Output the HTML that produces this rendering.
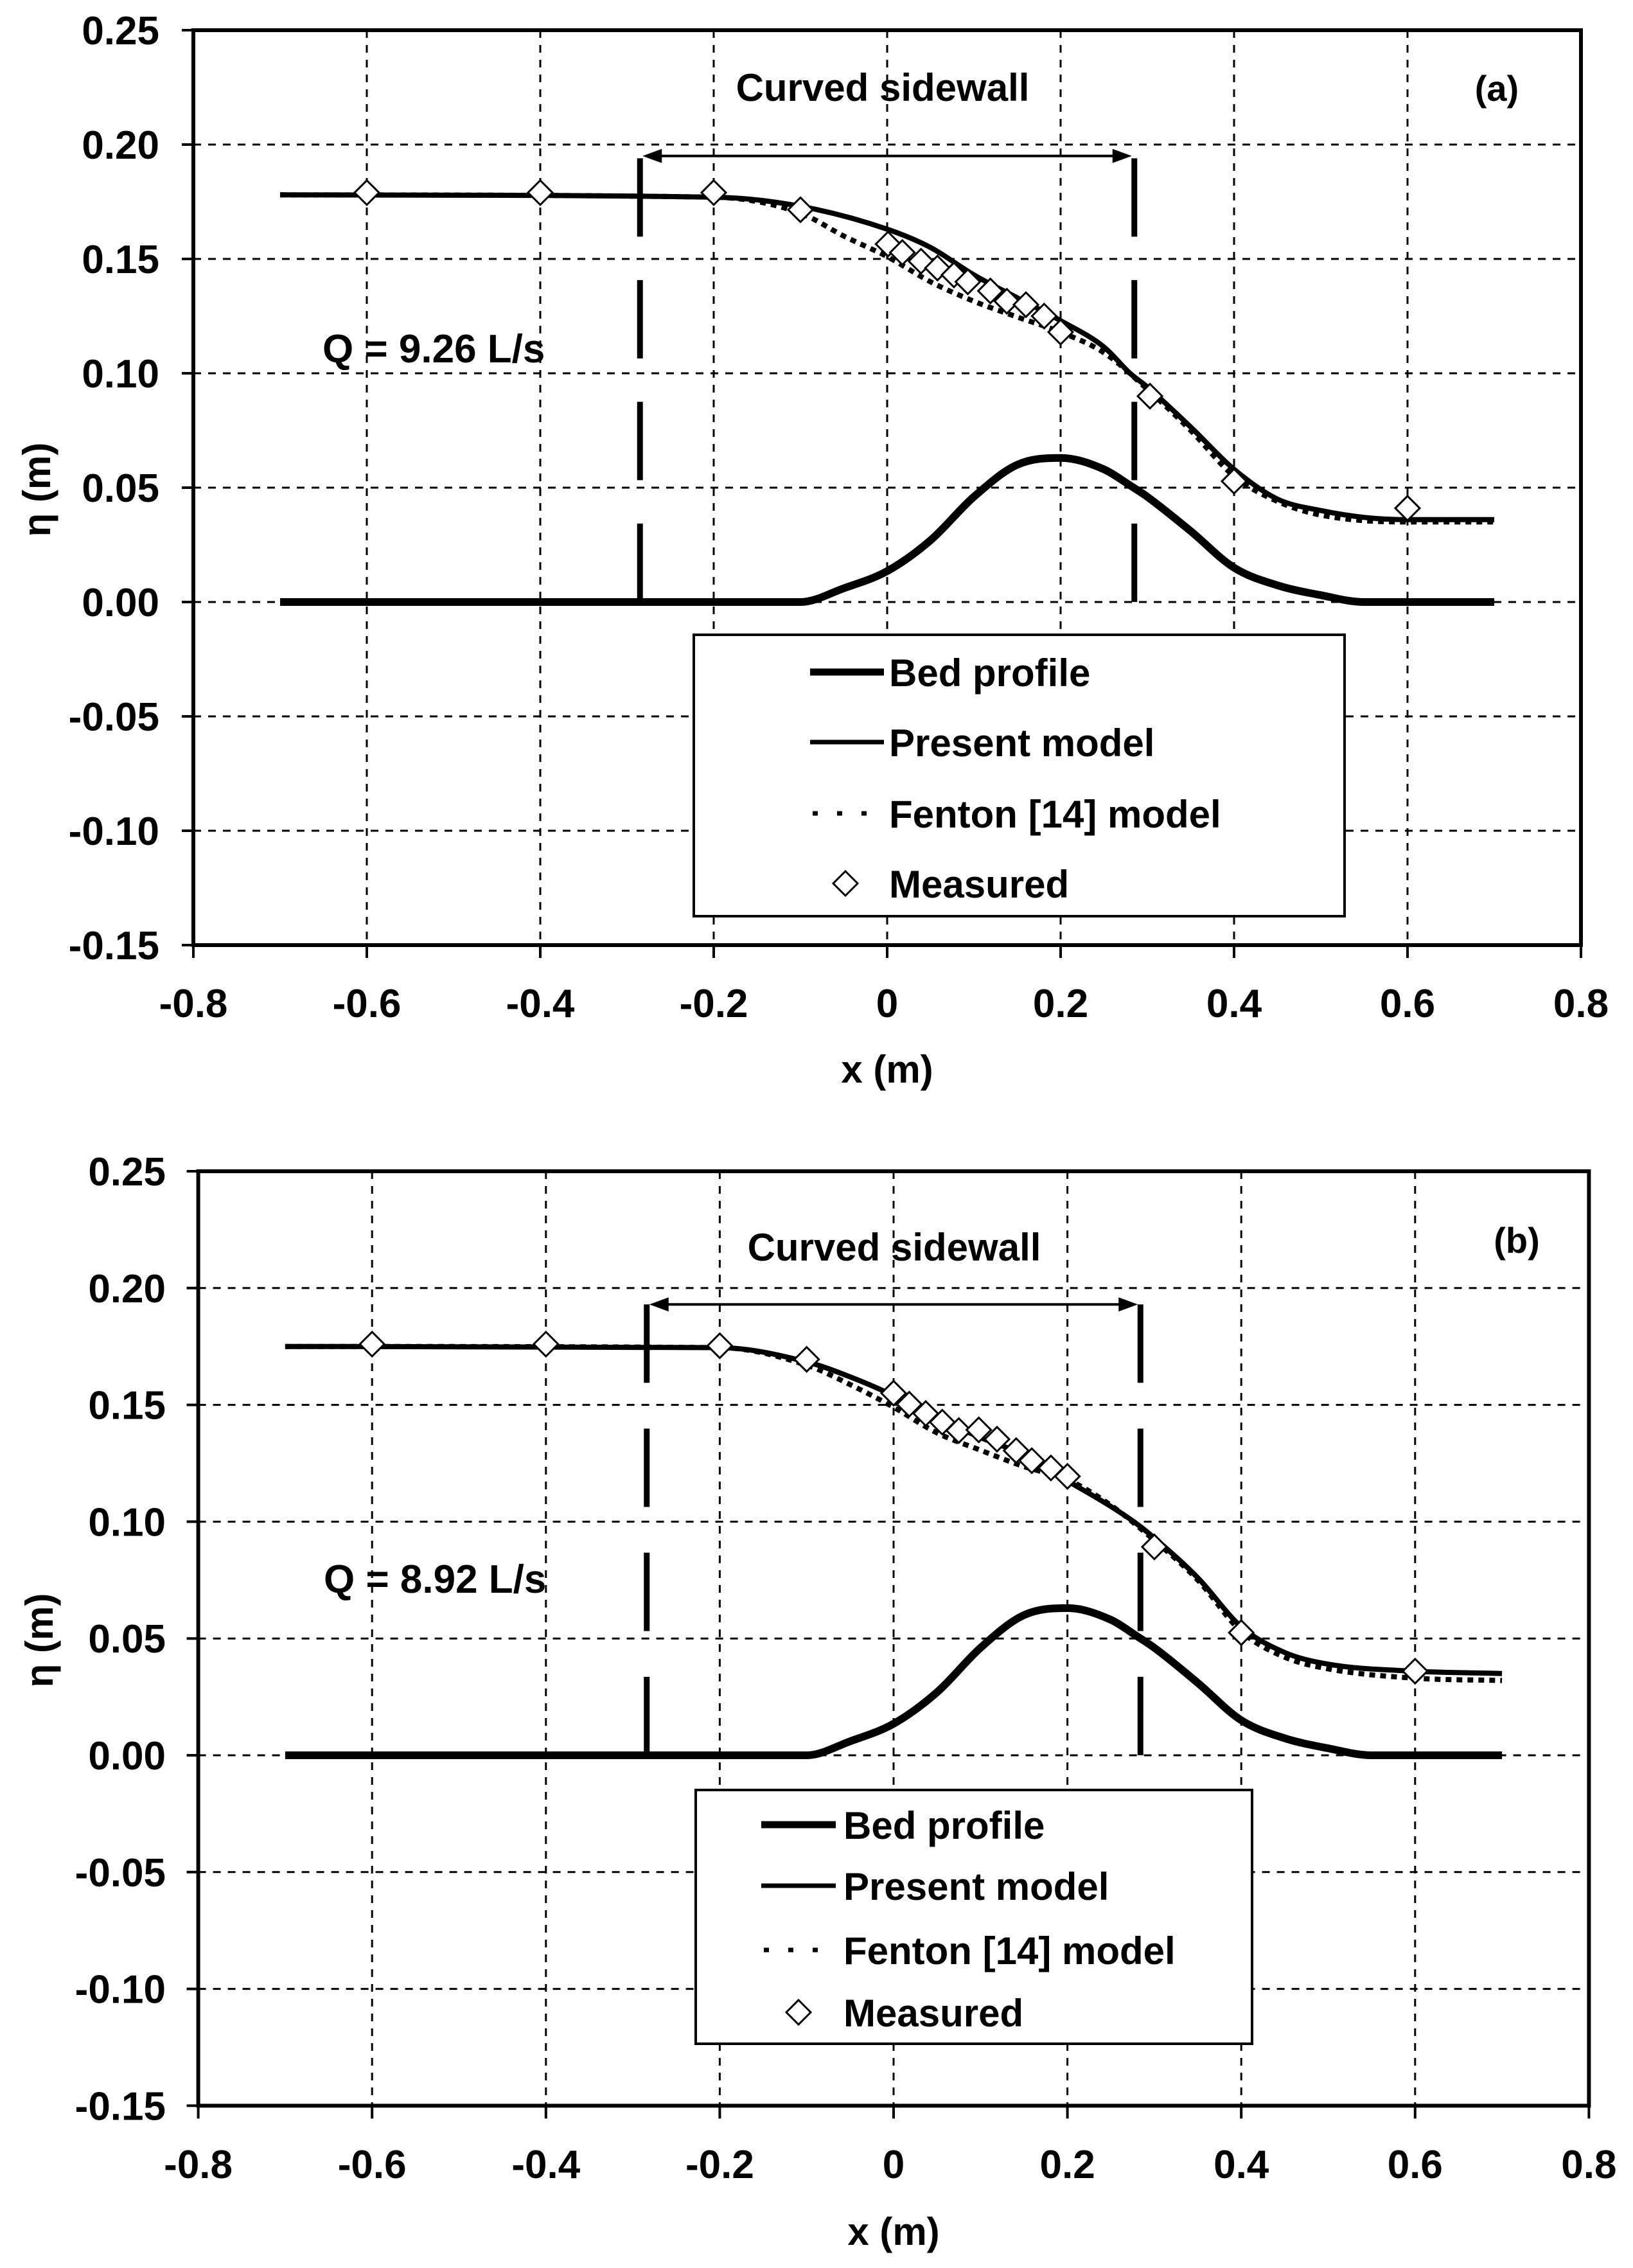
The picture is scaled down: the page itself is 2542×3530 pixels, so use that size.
<!DOCTYPE html>
<html><head><meta charset="utf-8">
<style>
html,body{margin:0;padding:0;background:#fff;}
svg{display:block;font-family:"Liberation Sans",Arial,sans-serif;font-weight:bold;}
</style></head>
<body>
<svg id="fig" width="2542" height="3530" viewBox="0 0 2542 3530" xmlns="http://www.w3.org/2000/svg"></svg>
<script>
// ---------- shared data ----------
const xTicks = [-0.8,-0.6,-0.4,-0.2,0,0.2,0.4,0.6,0.8];
const xTickLabels = ["-0.8","-0.6","-0.4","-0.2","0","0.2","0.4","0.6","0.8"];
const yTicks = [0.25,0.20,0.15,0.10,0.05,0.00,-0.05,-0.10,-0.15];
const yTickLabels = ["0.25","0.20","0.15","0.10","0.05","0.00","-0.05","-0.10","-0.15"];

// ---------- panel (a) data ----------
const bedX_a = [-0.7,-0.1,-0.05,0,0.05,0.1,0.15,0.2,0.25,0.28,0.3,0.35,0.4,0.45,0.5,0.55,0.7];
const bedY_a = [0,0,0.006,0.0135,0.027,0.046,0.060,0.063,0.058,0.051,0.046,0.031,0.015,0.0073,0.003,0,0];
const presX_a = [-0.7,-0.2,-0.1,0,0.05,0.1,0.15,0.2,0.25,0.28,0.3,0.35,0.4,0.45,0.5,0.55,0.6,0.7];
const presY_a = [0.178,0.177,0.173,0.163,0.155,0.143,0.133,0.123,0.1115,0.100,0.094,0.0765,0.058,0.045,0.040,0.037,0.036,0.036];
const fentX_a = [-0.7,-0.2,-0.1,-0.05,0,0.05,0.1,0.15,0.2,0.25,0.3,0.35,0.4,0.45,0.5,0.6,0.7];
const fentY_a = [0.178,0.177,0.170,0.160,0.151,0.140,0.1315,0.1246,0.118,0.109,0.093,0.075,0.055,0.044,0.038,0.035,0.035];
const measX_a = [-0.6,-0.4,-0.2,-0.1,0.001,0.0175,0.039,0.058,0.077,0.093,0.119,0.138,0.16,0.181,0.2,0.303,0.4,0.6];
const measY_a = [0.179,0.179,0.179,0.1715,0.1565,0.1528,0.149,0.146,0.143,0.140,0.136,0.1315,0.130,0.125,0.118,0.090,0.0528,0.041];

// ---------- panel (b) data ----------
const bedX_b = [-0.7,-0.1,-0.05,0,0.05,0.1,0.15,0.2,0.25,0.28,0.3,0.35,0.4,0.45,0.5,0.55,0.7];
const bedY_b = [0,0,0.006,0.0135,0.027,0.046,0.060,0.063,0.058,0.051,0.046,0.031,0.015,0.0073,0.003,0,0];
const presX_b = [-0.7,-0.2,-0.1,-0.05,0,0.05,0.1,0.15,0.2,0.25,0.28,0.3,0.35,0.4,0.45,0.5,0.6,0.7];
const presY_b = [0.175,0.1745,0.1684,0.162,0.154,0.1445,0.136,0.1286,0.1175,0.1065,0.099,0.093,0.076,0.055,0.044,0.039,0.036,0.035];
const fentX_b = [-0.7,-0.2,-0.1,-0.05,0,0.05,0.1,0.15,0.2,0.25,0.3,0.35,0.4,0.45,0.5,0.6,0.7];
const fentY_b = [0.175,0.1745,0.167,0.1587,0.149,0.138,0.1306,0.1236,0.118,0.107,0.092,0.075,0.053,0.042,0.037,0.033,0.032];
const measX_b = [-0.6,-0.4,-0.2,-0.1,0.0,0.018,0.037,0.056,0.075,0.098,0.119,0.141,0.159,0.181,0.2,0.3,0.4,0.6];
const measY_b = [0.176,0.176,0.1753,0.1695,0.155,0.1503,0.1463,0.1426,0.139,0.1393,0.1353,0.1304,0.1261,0.123,0.1194,0.0892,0.0525,0.036];

const NS = "http://www.w3.org/2000/svg";
const svg = document.getElementById('fig');
function mk(tag, attrs, parent){
  const e = document.createElementNS(NS, tag);
  for (const k in attrs) e.setAttribute(k, attrs[k]);
  (parent||svg).appendChild(e);
  return e;
}

// monotone cubic (Fritsch-Carlson) path in data space, mapped through axis functions
function monoPath(xs, ys, X, Y){
  const n = xs.length, d = [], m = [];
  for (let i = 0; i < n-1; i++) d.push((ys[i+1]-ys[i])/(xs[i+1]-xs[i]));
  m[0] = d[0]; m[n-1] = d[n-2];
  for (let i = 1; i < n-1; i++) m[i] = (d[i-1]*d[i] <= 0) ? 0 : (d[i-1]+d[i])/2;
  for (let i = 0; i < n-1; i++) {
    if (d[i] === 0) { m[i] = 0; m[i+1] = 0; continue; }
    const a = m[i]/d[i], b = m[i+1]/d[i], s = a*a + b*b;
    if (s > 9) { const t = 3/Math.sqrt(s); m[i] = t*a*d[i]; m[i+1] = t*b*d[i]; }
  }
  let p = 'M' + X(xs[0]).toFixed(1) + ',' + Y(ys[0]).toFixed(1);
  for (let i = 0; i < n-1; i++) {
    const h = xs[i+1]-xs[i];
    const c1x = xs[i] + h/3, c1y = ys[i] + m[i]*h/3;
    const c2x = xs[i+1] - h/3, c2y = ys[i+1] - m[i+1]*h/3;
    p += ' C' + X(c1x).toFixed(1) + ',' + Y(c1y).toFixed(1) + ' ' + X(c2x).toFixed(1) + ',' + Y(c2y).toFixed(1) + ' ' + X(xs[i+1]).toFixed(1) + ',' + Y(ys[i+1]).toFixed(1);
  }
  return p;
}

function panel(cfg){
  const g = mk('g', {});
  
  
  const X = v => cfg.x0 + cfg.kx * v;
  const Y = v => cfg.y0 - cfg.ky * v;
  const L = X(-0.8), R = X(0.8), T = Y(0.25), B = Y(-0.15);

  yTicks.forEach(v => {
    if (v === 0.25 || v === -0.15) return;
    const l = mk('line', {x1:L, x2:R, y1:Y(v), y2:Y(v), stroke:'#000', 'stroke-width':3, 'stroke-dasharray':'12,11'}, g);
    
    
  });
  xTicks.forEach(v => {
    if (v === -0.8 || v === 0.8) return;
    const l = mk('line', {x1:X(v), x2:X(v), y1:T, y2:B, stroke:'#000', 'stroke-width':3, 'stroke-dasharray':'12,11'}, g);
    
    
  });

  yTicks.forEach((v,i) => {
    mk('line', {x1:L-18, x2:L, y1:Y(v), y2:Y(v), stroke:'#000', 'stroke-width':4}, g);
    const t = mk('text', {x:cfg.yLabelRight, y:Y(v)+22, 'text-anchor':'end', 'font-size':62}, g);
    t.textContent = yTickLabels[i];
    
    
  });
  xTicks.forEach((v,i) => {
    mk('line', {x1:X(v), x2:X(v), y1:B, y2:B+20, stroke:'#000', 'stroke-width':4}, g);
    const t = mk('text', {x:X(v), y:cfg.xLabelBase, 'text-anchor':'middle', 'font-size':62}, g);
    t.textContent = xTickLabels[i];
    
    
  });

  const box = mk('rect', {x:L, y:T, width:R-L, height:B-T, fill:'none', stroke:'#000', 'stroke-width':6}, g);
  
  

  const xt = mk('text', {x:X(0), y:cfg.xTitleBase, 'text-anchor':'middle', 'font-size':60}, g);
  xt.textContent = 'x (m)';
  
  
  const yt = mk('text', {x:0, y:0, 'text-anchor':'middle', 'font-size':60, transform:`translate(${cfg.yTitleX},${cfg.yTitleY}) rotate(-90)`}, g);
  yt.textContent = 'η (m)';
  
  

  const wlen = Y(0) - Y(cfg.wallTop), dash = 122, gap = (wlen - dash) / 3 - dash;
  [-cfg.wall, cfg.wall].forEach(v => {
    const l = mk('line', {x1:X(v), x2:X(v), y1:Y(cfg.wallTop), y2:Y(0), stroke:'#000', 'stroke-width':9, 'stroke-dasharray':dash + ',' + gap.toFixed(1)}, g);
    
    
  });
  const ay = Y(cfg.arrowY);
  const arr = mk('line', {x1:X(-cfg.wall)+20, x2:X(cfg.wall)-20, y1:ay, y2:ay, stroke:'#000', 'stroke-width':4}, g);
  
  
  mk('polygon', {points:`${X(-cfg.wall)+4},${ay} ${X(-cfg.wall)+34},${ay-11} ${X(-cfg.wall)+34},${ay+11}`, fill:'#000'}, g);
  mk('polygon', {points:`${X(cfg.wall)-4},${ay} ${X(cfg.wall)-34},${ay-11} ${X(cfg.wall)-34},${ay+11}`, fill:'#000'}, g);

  const cs = mk('text', {x:cfg.csX, y:cfg.csY, 'text-anchor':'middle', 'font-size':60}, g);
  cs.textContent = 'Curved sidewall';
  
  
  const pl = mk('text', {x:cfg.plX, y:cfg.plY, 'text-anchor':'middle', 'font-size':56}, g);
  pl.textContent = '(' + cfg.id + ')';
  
  
  const q = mk('text', {x:cfg.qX, y:cfg.qY, 'font-size':62}, g);
  q.textContent = cfg.qText;
  
  

  const bed = mk('path', {d:monoPath(cfg.bedX, cfg.bedY, X, Y), fill:'none', stroke:'#000', 'stroke-width':12, 'stroke-linejoin':'round'}, g);
  
  
  const fen = mk('path', {d:monoPath(cfg.fentX, cfg.fentY, X, Y), fill:'none', stroke:'#000', 'stroke-width':8, 'stroke-dasharray':'9,8'}, g);
  
  
  const pres = mk('path', {d:monoPath(cfg.presX, cfg.presY, X, Y), fill:'none', stroke:'#000', 'stroke-width':8, 'stroke-linejoin':'round'}, g);
  
  
  cfg.measX.forEach((v,i) => {
    const cx = X(v), cy = Y(cfg.measY[i]), s = 19;
    const d = mk('polygon', {points:`${cx},${cy-s} ${cx+s},${cy} ${cx},${cy+s} ${cx-s},${cy}`, fill:'#fff', stroke:'#000', 'stroke-width':3}, g);
    
    
  });

  const lg = mk('g', {}, g);
  
  
  mk('rect', {x:cfg.lgL, y:cfg.lgT, width:cfg.lgR-cfg.lgL, height:cfg.lgB-cfg.lgT, fill:'#fff', stroke:'#000', 'stroke-width':4}, lg);
  const names = ['Bed profile','Present model','Fenton [14] model','Measured'];
  const ents = ['legend-entry-bed','legend-entry-present','legend-entry-fenton','legend-entry-measured'];
  names.forEach((n,i) => {
    const ry = cfg.rows[i];
    const eg = mk('g', {}, lg);
    
    
    if (i === 0) mk('line', {x1:cfg.ls1, x2:cfg.ls2, y1:ry, y2:ry, stroke:'#000', 'stroke-width':11}, eg);
    if (i === 1) mk('line', {x1:cfg.ls1, x2:cfg.ls2, y1:ry, y2:ry, stroke:'#000', 'stroke-width':7}, eg);
    if (i === 2) mk('line', {x1:cfg.ls1+4, x2:cfg.ls2, y1:ry, y2:ry, stroke:'#000', 'stroke-width':7, 'stroke-dasharray':'8,30'}, eg);
    if (i === 3) { const cx = cfg.lmX, s = 19; mk('polygon', {points:`${cx},${ry-s} ${cx+s},${ry} ${cx},${ry+s} ${cx-s},${ry}`, fill:'#fff', stroke:'#000', 'stroke-width':3}, eg); }
    const t = mk('text', {x:cfg.ltX, y:ry+22, 'font-size':60}, eg);
    t.textContent = n;
  });
}

panel({id:'a', x0:1381, kx:1350, y0:937, ky:3560,
  yLabelRight:248, xLabelBase:1583, xTitleBase:1685, yTitleX:78, yTitleY:762,
  wall:0.285, wallTop:0.194, arrowY:0.195, csX:1374, csY:157, plX:2330, plY:157,
  qX:502, qY:564, qText:'Q = 9.26 L/s',
  bedX:bedX_a, bedY:bedY_a, presX:presX_a, presY:presY_a, fentX:fentX_a, fentY:fentY_a, measX:measX_a, measY:measY_a,
  lgL:1080, lgR:2093, lgT:988, lgB:1426, rows:[1046,1155,1266,1375], ls1:1261, ls2:1376, lmX:1316, ltX:1384});

panel({id:'b', x0:1391, kx:1353, y0:2732, ky:3636,
  yLabelRight:258, xLabelBase:3390, xTitleBase:3494, yTitleX:82, yTitleY:2553,
  wall:0.284, wallTop:0.193, arrowY:0.193, csX:1392, csY:1962, plX:2361, plY:1950,
  qX:504, qY:2479, qText:'Q = 8.92 L/s',
  bedX:bedX_b, bedY:bedY_b, presX:presX_b, presY:presY_b, fentX:fentX_b, fentY:fentY_b, measX:measX_b, measY:measY_b,
  lgL:1083, lgR:1949, lgT:2786, lgB:3181, rows:[2840,2935,3035,3132], ls1:1185, ls2:1301, lmX:1243, ltX:1313});
</script>
</body></html>
